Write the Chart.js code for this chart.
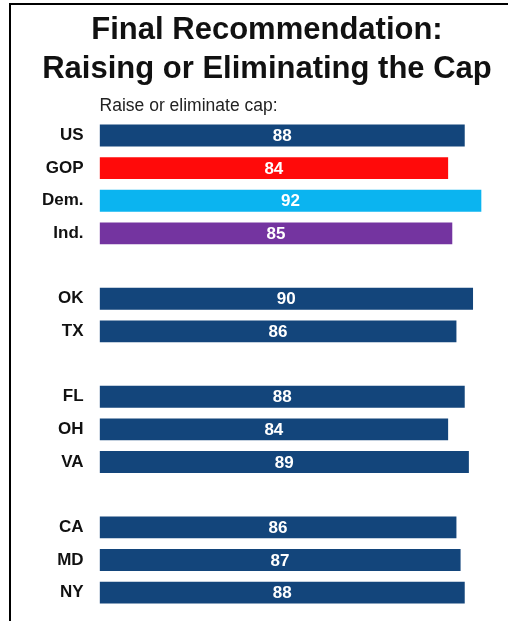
<!DOCTYPE html>
<html>
<head>
  <meta charset="utf-8">
  <title>Final Recommendation: Raising or Eliminating the Cap</title>
  <script src="https://cdn.jsdelivr.net/npm/chart.js"></script>
  <style>
    body { margin: 0; background: #fff; font-family: Arial, "Liberation Sans", sans-serif; }
    #wrap { position: relative; width: 508px; height: 621px; overflow: hidden; }
    #frame { position: absolute; left: 9px; top: 3px; right: 0; bottom: 0; border-left: 2px solid #000; border-top: 2px solid #000; }
    #capChart { position: absolute; left: 0; top: 0; }
  </style>
</head>
<body>
  <div id="wrap">
    <div id="frame"></div>
    <canvas id="capChart" width="508" height="621"></canvas>
  </div>

  <script>
    // groups are separated by an empty row
    var groups = ['US', 'GOP', 'Dem.', 'Ind.', '', 'OK', 'TX', '', 'FL', 'OH', 'VA', '', 'CA', 'MD', 'NY'];
    var raiseOrEliminate = [88, 84, 92, 85, null, 90, 86, null, 88, 84, 89, null, 86, 87, 88];

    var navy = '#13457b';
    var barColors = [navy, '#ff0a0a', '#0bb4f0', '#7434a0', navy, navy, navy, navy, navy, navy, navy, navy, navy, navy, navy];

    var font = 'Arial, "Liberation Sans", sans-serif';

    // white value label in the middle of each bar
    var barValues = {
      id: 'barValues',
      afterDatasetsDraw: function(chart) {
        var ctx = chart.ctx;
        var meta = chart.getDatasetMeta(0);
        ctx.save();
        ctx.fillStyle = '#fff';
        ctx.font = 'bold 17px ' + font;
        ctx.textAlign = 'center';
        ctx.textBaseline = 'middle';
        meta.data.forEach(function(bar, i) {
          var v = raiseOrEliminate[i];
          if (v == null) return;
          ctx.fillText(v, (bar.base + bar.x) / 2, bar.y + 1);
        });
        ctx.restore();
      }
    };

    new Chart(document.getElementById('capChart'), {
      type: 'bar',
      data: {
        labels: groups,
        datasets: [{
          data: raiseOrEliminate,
          backgroundColor: barColors,
          borderWidth: 0,
          barPercentage: 0.67,
          categoryPercentage: 1
        }]
      },
      options: {
        indexAxis: 'y',
        responsive: false,
        animation: false,
        layout: { padding: { left: 34, right: 8, top: 4, bottom: 12 } },
        scales: {
          x: { display: false, min: 0, max: 96.5 },
          y: {
            grid: { display: false },
            border: { display: false },
            ticks: { color: '#111', padding: 8, font: { family: font, size: 17, weight: 'bold' } },
            // rows are offset, so labels never spill past the ends
            afterFit: function(scale) {
              scale.paddingTop = 0;
              scale.paddingBottom = 0;
            }
          }
        },
        plugins: {
          legend: { display: false },
          tooltip: { enabled: false },
          title: {
            display: true,
            text: ['Final Recommendation:', 'Raising or Eliminating the Cap'],
            color: '#111',
            font: { family: font, size: 31, weight: 'bold', lineHeight: 1.26 },
            padding: { top: 7, bottom: 7 }
          },
          subtitle: {
            display: true,
            text: 'Raise or eliminate cap:',
            color: '#222',
            align: 'start',
            fullSize: false,
            font: { family: font, size: 17.5 },
            padding: { top: 0, bottom: 2 }
          }
        }
      },
      plugins: [barValues]
    });
  </script>
</body>
</html>
